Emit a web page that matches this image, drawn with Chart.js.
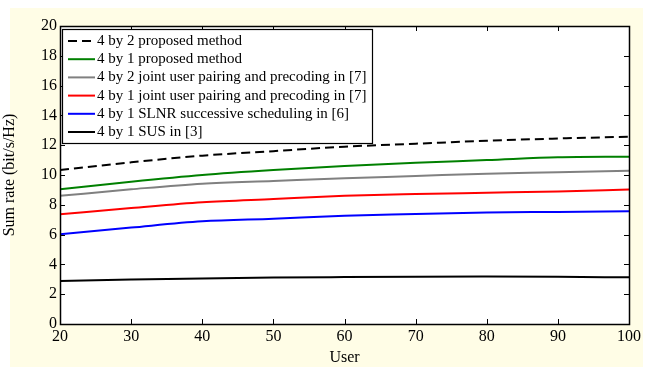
<!DOCTYPE html>
<html>
<head>
<meta charset="utf-8">
<script src="https://cdn.jsdelivr.net/npm/chart.js@4.4.0/dist/chart.umd.min.js"></script>
<style>
  html, body { margin: 0; padding: 0; background: #ffffff; }
  #wrap { position: relative; width: 649px; height: 367px; }
</style>
</head>
<body>
<div id="wrap"><canvas id="sumRateChart" width="649" height="367"></canvas></div>
<script>
// Data
const users = [20, 30, 40, 50, 60, 70, 80, 90, 100];
const yTicks = [0, 2, 4, 6, 8, 10, 12, 14, 16, 18, 20];

const proposed4x2 = [10.34, 10.85, 11.3, 11.6, 11.9, 12.1, 12.3, 12.45, 12.57];
const proposed4x1 = [9.04, 9.55, 10.0, 10.33, 10.6, 10.83, 11.0, 11.19, 11.23];
const joint4x2 = [8.6, 9.04, 9.42, 9.6, 9.78, 9.93, 10.09, 10.18, 10.29];
const joint4x1 = [7.36, 7.78, 8.17, 8.39, 8.6, 8.72, 8.81, 8.9, 9.02];
const slnr4x1 = [6.02, 6.47, 6.89, 7.07, 7.27, 7.38, 7.49, 7.52, 7.56];
const sus4x1 = [2.89, 2.98, 3.06, 3.12, 3.15, 3.17, 3.18, 3.17, 3.13];

const seriesLabels = [
  "4 by 2 proposed method",
  "4 by 1 proposed method",
  "4 by 2 joint user pairing and precoding in [7]",
  "4 by 1 joint user pairing and precoding in [7]",
  "4 by 1 SLNR successive scheduling in [6]",
  "4 by 1 SUS in [3]",
];
const seriesValues = [proposed4x2, proposed4x1, joint4x2, joint4x1, slnr4x1, sus4x1];
const seriesColors = ["#000000", "#008000", "#808080", "#ff0000", "#0000ff", "#000000"];
const seriesDash = [[9, 5], [], [], [], [], []];

const FONT = "'Liberation Serif', 'Times New Roman', serif";

function makeDataset(i) {
  return {
    label: seriesLabels[i],
    data: users.map((u, k) => ({ x: u, y: seriesValues[i][k] })),
    borderColor: seriesColors[i],
    borderDash: seriesDash[i],
    borderWidth: 2,
    pointRadius: 0,
    fill: false,
    tension: 0.3,
    cubicInterpolationMode: "monotone",
  };
}

// Yellow page background
const pageBackground = {
  id: "pageBackground",
  beforeDraw(chart) {
    const ctx = chart.ctx;
    ctx.save();
    ctx.fillStyle = "#ffffff";
    ctx.fillRect(0, 0, chart.width, chart.height);
    ctx.fillStyle = "#fffde6";
    ctx.fillRect(10, 8, 633, 359);
    const a = chart.chartArea;
    ctx.fillStyle = "#ffffff";
    ctx.fillRect(a.left, a.top, a.right - a.left, a.bottom - a.top);
    ctx.restore();
  },
};

// Frame with inward ticks on every side (MATLAB look)
const frameTicks = {
  id: "frameTicks",
  afterDatasetsDraw(chart) {
    const ctx = chart.ctx;
    const a = chart.chartArea;
    const xs = chart.scales.x;
    const ys = chart.scales.y;
    const len = 5;
    ctx.save();
    ctx.strokeStyle = "#000000";
    ctx.lineWidth = 1;
    ctx.beginPath();
    xs.ticks.forEach((t) => {
      const px = Math.round(xs.getPixelForValue(t.value)) + 0.5;
      ctx.moveTo(px, a.bottom);
      ctx.lineTo(px, a.bottom - len);
      ctx.moveTo(px, a.top);
      ctx.lineTo(px, a.top + len);
    });
    ys.ticks.forEach((t) => {
      const py = Math.round(ys.getPixelForValue(t.value)) + 0.5;
      ctx.moveTo(a.left, py);
      ctx.lineTo(a.left + len, py);
      ctx.moveTo(a.right, py);
      ctx.lineTo(a.right - len, py);
    });
    ctx.stroke();
    ctx.lineWidth = 1.5;
    ctx.strokeRect(a.left + 0.5, a.top + 0.5, a.right - a.left, a.bottom - a.top);
    ctx.restore();
  },
};

// Boxed legend inside the upper left of the plot
const boxLegend = {
  id: "boxLegend",
  afterDraw(chart) {
    const ctx = chart.ctx;
    const a = chart.chartArea;
    const x0 = a.left + 2;
    const y0 = a.top + 3;
    const w = 310;
    const h = 114;
    ctx.save();
    ctx.fillStyle = "#ffffff";
    ctx.fillRect(x0, y0, w, h);
    ctx.strokeStyle = "#000000";
    ctx.lineWidth = 1.2;
    ctx.strokeRect(x0 + 0.5, y0 + 0.5, w, h);
    ctx.font = "15px " + FONT;
    ctx.textBaseline = "middle";
    chart.data.datasets.forEach((ds, i) => {
      const cy = y0 + 12 + i * 18.2;
      ctx.strokeStyle = ds.borderColor;
      ctx.lineWidth = 2;
      ctx.setLineDash(ds.borderDash || []);
      ctx.beginPath();
      ctx.moveTo(x0 + 6, cy);
      ctx.lineTo(x0 + 33, cy);
      ctx.stroke();
      ctx.setLineDash([]);
      ctx.fillStyle = "#000000";
      ctx.fillText(ds.label, x0 + 35, cy);
    });
    ctx.restore();
  },
};

const ctx = document.getElementById("sumRateChart").getContext("2d");
let sumRateChart = new Chart(ctx, {
  type: "line",
  data: { datasets: seriesLabels.map((_, i) => makeDataset(i)) },
  options: {
    responsive: false,
    animation: false,
    layout: { padding: { left: 0, top: 26, right: 20, bottom: 0 } },
    plugins: {
      legend: { display: false },
      tooltip: { enabled: false },
    },
    scales: {
      x: {
        type: "linear",
        min: 20,
        max: 100,
        afterBuildTicks(scale) {
          scale.ticks = users.map((v) => ({ value: v }));
        },
        afterFit(scale) {
          scale.height = 43;
        },
        grid: { display: false, drawTicks: false },
        border: { display: false },
        ticks: {
          color: "#000000",
          font: { family: FONT, size: 16 },
          padding: 3,
          maxRotation: 0,
        },
        title: {
          display: true,
          text: "User",
          color: "#000000",
          font: { family: FONT, size: 16 },
          padding: { top: 0, bottom: 0 },
        },
      },
      y: {
        min: 0,
        max: 20,
        afterBuildTicks(scale) {
          scale.ticks = yTicks.map((v) => ({ value: v }));
        },
        afterFit(scale) {
          scale.width = 60;
        },
        grid: { display: false, drawTicks: false },
        border: { display: false },
        ticks: {
          color: "#000000",
          font: { family: FONT, size: 16 },
          padding: 3,
        },
        title: {
          display: true,
          text: "Sum rate (bit/s/Hz)",
          color: "#000000",
          font: { family: FONT, size: 16 },
          padding: { top: 0, bottom: 0 },
        },
      },
    },
  },
  plugins: [pageBackground, frameTicks, boxLegend],
});
</script>
</body>
</html>
